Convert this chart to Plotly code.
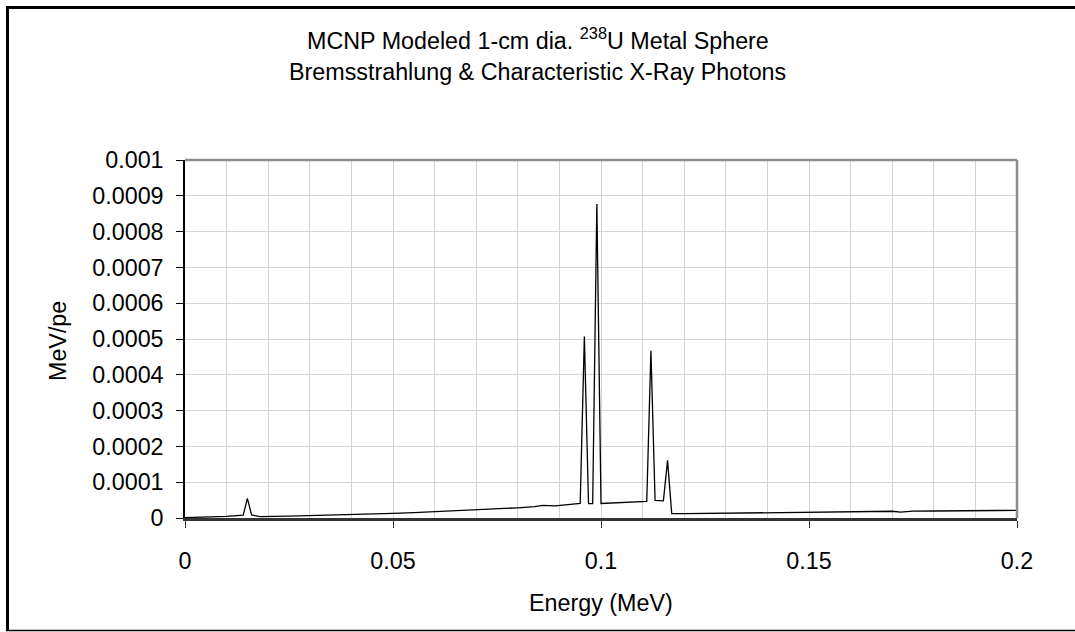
import plotly.graph_objects as go

# ---- data ----
energy_mev = [0.000, 0.005, 0.010, 0.014, 0.015, 0.016, 0.018, 0.025, 0.031, 0.040,
              0.047, 0.050, 0.055, 0.060, 0.065, 0.070, 0.075, 0.080, 0.084, 0.086,
              0.089, 0.092, 0.095, 0.096, 0.097, 0.098, 0.099, 0.100, 0.103, 0.106,
              0.109, 0.111, 0.112, 0.113, 0.114, 0.115, 0.116, 0.117, 0.120, 0.125,
              0.130, 0.135, 0.140, 0.145, 0.150, 0.155, 0.160, 0.165, 0.170, 0.172,
              0.175, 0.180, 0.185, 0.190, 0.195, 0.200]
mev_per_pe = [0.0000010, 0.0000025, 0.0000045, 0.0000080, 0.0000550, 0.0000085, 0.0000040,
              0.0000050, 0.0000065, 0.0000090, 0.0000111, 0.0000128, 0.0000150, 0.0000175,
              0.0000198, 0.0000222, 0.0000250, 0.0000285, 0.0000315, 0.0000355, 0.0000340,
              0.0000380, 0.0000407, 0.000507, 0.0000400, 0.0000400, 0.000877, 0.0000405,
              0.0000420, 0.0000435, 0.0000450, 0.0000463, 0.000467, 0.0000490, 0.0000485,
              0.0000480, 0.000161, 0.0000120, 0.0000120, 0.0000125, 0.0000130, 0.0000135,
              0.0000140, 0.0000150, 0.0000160, 0.0000165, 0.0000175, 0.0000180, 0.0000188,
              0.0000165, 0.0000190, 0.0000195, 0.0000205, 0.0000213, 0.0000210, 0.0000213]

x_tick_vals = [0, 0.05, 0.1, 0.15, 0.2]
x_tick_text = ["0", "0.05", "0.1", "0.15", "0.2"]
y_tick_vals = [0, 0.0001, 0.0002, 0.0003, 0.0004, 0.0005, 0.0006, 0.0007, 0.0008, 0.0009, 0.001]
y_tick_text = ["0", "0.0001", "0.0002", "0.0003", "0.0004", "0.0005", "0.0006",
               "0.0007", "0.0008", "0.0009", "0.001"]

title_line1 = "MCNP Modeled 1-cm dia. <sup>238</sup>U Metal Sphere"
title_line2 = "Bremsstrahlung & Characteristic X-Ray Photons"
x_title = "Energy (MeV)"
y_title = "MeV/pe"

FONT = "Liberation Sans, Arial, sans-serif"
FS = 23.3
GRID = "#d4d4d4"

W, H = 1075, 632
ML, MR, MT, MB = 185, 58, 160, 114
PW, PH = W - ML - MR, H - MT - MB


def px_x(p):
    return (p - ML) / PW


def px_y(p):
    return (H - MB - p) / PH


fig = go.Figure()
fig.add_trace(go.Scatter(x=energy_mev, y=mev_per_pe, mode="lines",
                         line=dict(color="black", width=1.3), showlegend=False,
                         hoverinfo="x+y"))

fig.update_layout(
    width=W, height=H,
    margin=dict(l=ML, r=MR, t=MT, b=MB, pad=0),
    paper_bgcolor="white", plot_bgcolor="white",
    font=dict(family=FONT, size=FS, color="black"),
    showlegend=False,
    xaxis=dict(range=[0, 0.2], tickvals=x_tick_vals, ticktext=x_tick_text,
               showgrid=True, gridcolor=GRID, gridwidth=1,
               minor=dict(dtick=0.01, showgrid=True, gridcolor=GRID, gridwidth=1, ticks=""),
               showline=True, linecolor="#333333", linewidth=2.5,
               ticks="outside", ticklen=7, tickcolor="#333333", tickwidth=1.2,
               ticklabelstandoff=13, zeroline=False, fixedrange=True),
    yaxis=dict(range=[0, 0.001], tickvals=y_tick_vals, ticktext=y_tick_text,
               showgrid=True, gridcolor=GRID, gridwidth=1,
               showline=True, linecolor="black", linewidth=1.5,
               ticks="outside", ticklen=7, tickcolor="black", tickwidth=1.2,
               ticklabelstandoff=8, zeroline=False, fixedrange=True),
)

shapes = [
    # gray plot-area frame on top and right
    dict(type="line", xref="paper", yref="paper", x0=0, x1=1, y0=1, y1=1,
         line=dict(color="#8c8c8c", width=2.5)),
    dict(type="line", xref="paper", yref="paper", x0=1, x1=1, y0=0, y1=1,
         line=dict(color="#8c8c8c", width=2.5)),
    # outer chart border (open on the right, as in the reference)
    dict(type="line", xref="paper", yref="paper", x0=px_x(7.5), x1=px_x(1075),
         y0=px_y(7.5), y1=px_y(7.5), line=dict(color="black", width=3)),
    dict(type="line", xref="paper", yref="paper", x0=px_x(7.5), x1=px_x(7.5),
         y0=px_y(6), y1=px_y(631), line=dict(color="black", width=3)),
    dict(type="line", xref="paper", yref="paper", x0=px_x(6), x1=px_x(1075),
         y0=px_y(630.5), y1=px_y(630.5), line=dict(color="black", width=1.5)),
]
fig.update_layout(shapes=shapes)

annotations = [
    dict(text=title_line1, xref="paper", yref="paper", x=px_x(537.5), y=px_y(38.5),
         xanchor="center", yanchor="middle", showarrow=False, font=dict(size=FS)),
    dict(text=title_line2, xref="paper", yref="paper", x=px_x(537.5), y=px_y(72),
         xanchor="center", yanchor="middle", showarrow=False, font=dict(size=FS)),
    dict(text=x_title, xref="paper", yref="paper", x=0.5, y=px_y(603),
         xanchor="center", yanchor="middle", showarrow=False, font=dict(size=FS)),
    dict(text=y_title, xref="paper", yref="paper", x=px_x(58), y=px_y(341),
         xanchor="center", yanchor="middle", showarrow=False, textangle=-90,
         font=dict(size=FS)),
]
fig.update_layout(annotations=annotations)

fig.write_html(
    "out.html", config={"displayModeBar": False},
    post_script=("document.body.style.margin='0';document.body.style.padding='0';"
                 "document.body.style.overflow='hidden';"
                 "document.documentElement.style.overflow='hidden';"))
